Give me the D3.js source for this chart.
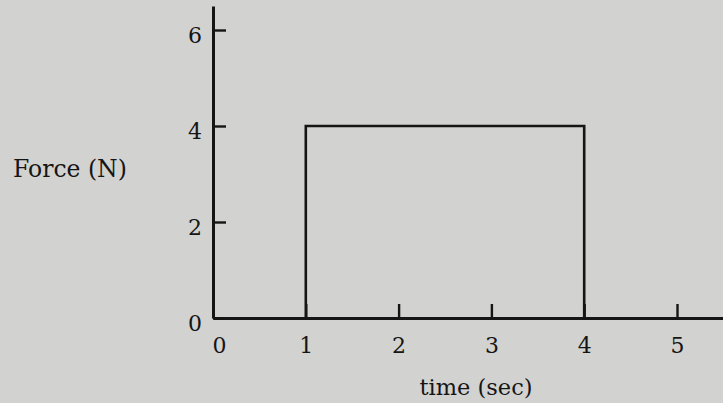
<!DOCTYPE html>
<html><head><meta charset="utf-8">
<script src="https://cdn.jsdelivr.net/npm/d3@7"></script>
<style>
html,body{margin:0;padding:0;background:#d2d2d0;}
svg{display:block;}
text{font-family:"DejaVu Serif","Liberation Serif",serif;fill:#151515;}
</style></head>
<body>
<svg id="c" width="723" height="403"></svg>
<script>
// data
const xTicks = [0, 1, 2, 3, 4, 5];
const yTicks = [0, 2, 4, 6];
const pulseTime = [1, 1, 4, 4];
const pulseForce = [0, 4, 4, 0];
const xTitle = "time (sec)";
const yTitle = "Force (N)";

const svg = d3.select("#c");
svg.append("rect").attr("width",723).attr("height",403).attr("fill","#d2d2d0");

const x = d3.scaleLinear().domain([0, 5.5]).range([213, 723.4]);
const y = d3.scaleLinear().domain([0, 6.5]).range([318, 6]);
const ink = "#151515";

// pulse line
const pts = pulseTime.map((t,i)=>[t, pulseForce[i]]);
svg.append("path")
  .attr("d", d3.line().x(d=>x(d[0])).y(d=>y(d[1]))(pts))
  .attr("fill","none").attr("stroke",ink).attr("stroke-width",2.6);

// x axis
const gx = svg.append("g").attr("transform",`translate(0,${y(0)})`)
  .call(d3.axisBottom(x).tickValues(xTicks).tickSizeInner(-14).tickSizeOuter(0).tickPadding(19).tickFormat(d3.format("d")));
gx.select(".domain").attr("stroke",ink).attr("stroke-width",3);
gx.selectAll(".tick line").attr("stroke",ink).attr("stroke-width",2.4);
gx.selectAll(".tick text").attr("font-size",22).attr("fill",ink)
  .attr("dx", d => d===0 ? 6 : 0);

// y axis
const gy = svg.append("g").attr("transform",`translate(${x(0)},0)`)
  .call(d3.axisLeft(y).tickValues(yTicks).tickSizeInner(-13).tickSizeOuter(0).tickPadding(11).tickFormat(d3.format("d")));
gy.select(".domain").attr("stroke",ink).attr("stroke-width",3);
gy.selectAll(".tick line").attr("stroke",ink).attr("stroke-width",2.4);
gy.selectAll(".tick text").attr("font-size",22).attr("fill",ink).attr("dy","0.55em");

// titles
svg.append("text").attr("x",476).attr("y",395).attr("text-anchor","middle")
  .attr("font-size",22.5).text(xTitle);
svg.append("text").attr("x",13).attr("y",177).attr("text-anchor","start")
  .attr("font-size",23.5).text(yTitle);
</script>
</body></html>
